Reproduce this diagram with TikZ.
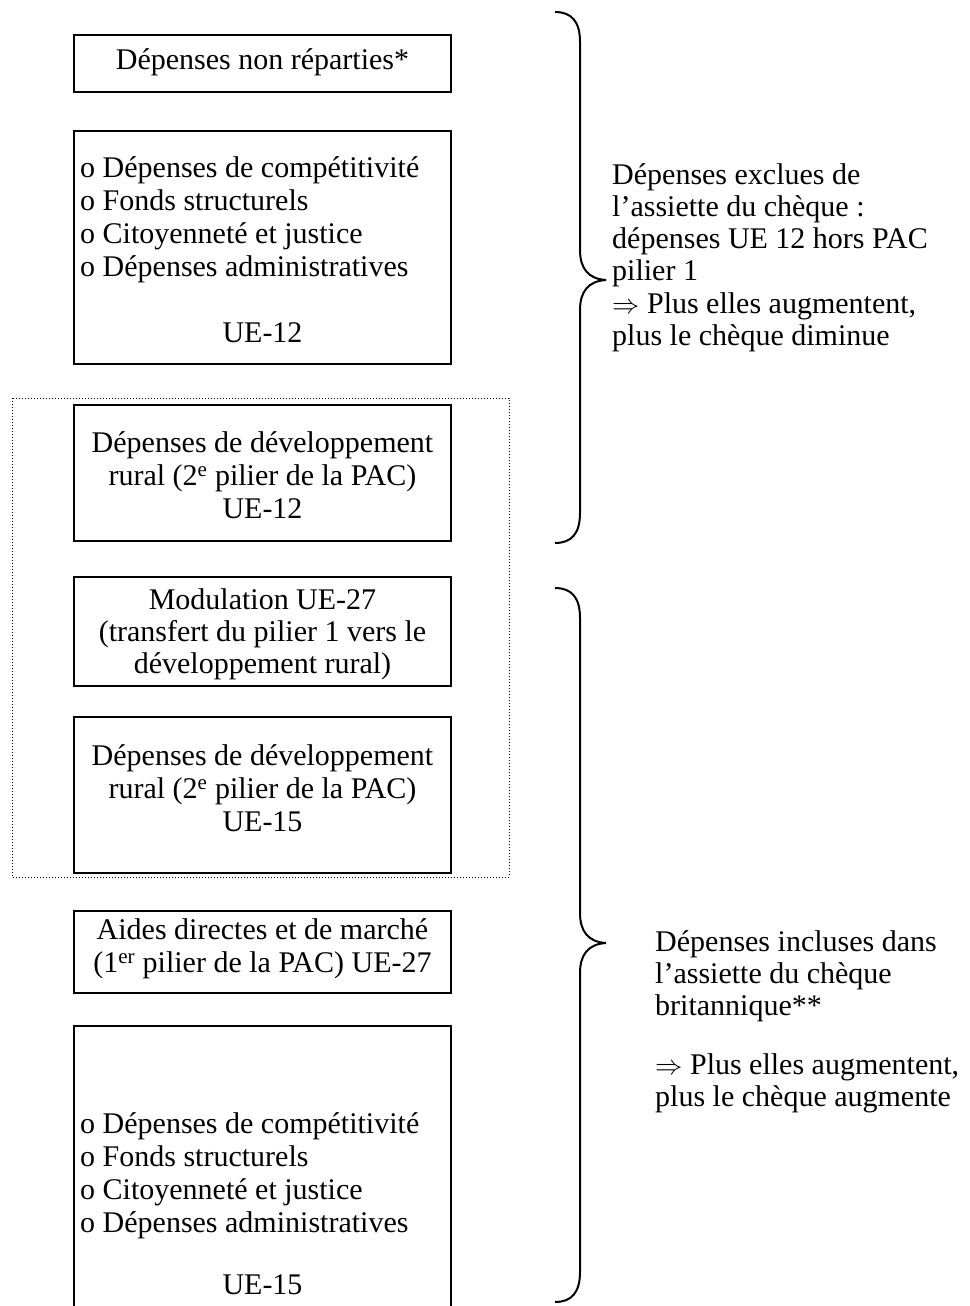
\documentclass[tikz,border=0pt]{standalone}
\usepackage{fontspec}
\setmainfont{Liberation Serif}
\newcommand{\impl}{\raisebox{0pt}[0pt][0pt]{\scalebox{1.1}{$\Rightarrow$}}}
\begin{document}
\begin{tikzpicture}[x=1pt,y=-1pt,
  box/.style={draw,line width=2pt,rectangle,inner sep=0pt,minimum width=377pt},
  txt/.style={inner sep=0pt,font=\fontsize{30}{33}\selectfont},
  side/.style={inner sep=0pt,font=\fontsize{30}{32}\selectfont,align=left,anchor=west},
  brace/.style={line width=2pt}]
\useasboundingbox (0,0) rectangle (969,1306);
% dotted frame
\draw[dotted,line width=1pt] (12,398) rectangle (509,877);
% boxes
\node[box,minimum height=57pt] (b1) at (262.5,63.5) {};
\node[box,minimum height=233pt] (b2) at (262.5,247.5) {};
\node[box,minimum height=136pt] (b3) at (262.5,473) {};
\node[box,minimum height=109pt] (b4) at (262.5,631.5) {};
\node[box,minimum height=156pt] (b5) at (262.5,795) {};
\node[box,minimum height=82pt] (b6) at (262.5,952) {};
\node[box,minimum height=300pt] (b7) at (262.5,1176) {};
% texts
\node[txt] (t1) at (262.5,62) {Dépenses non réparties*};
\node[txt,align=left,anchor=west] (t2) at (80,220) {o Dépenses de compétitivité\\o Fonds structurels\\o Citoyenneté et justice\\o Dépenses administratives};
\node[txt] (t2b) at (262.5,333) {UE-12};
\node[txt,align=center] (t3) at (262.5,475) {Dépenses de développement\\rural (2\textsuperscript{e} pilier de la PAC)\\UE-12};
\node[txt,align=center,font=\fontsize{30}{32}\selectfont] (t4) at (262.5,634) {Modulation UE-27\\(transfert du pilier 1 vers le\\développement rural)};
\node[txt,align=center] (t5) at (262.5,788) {Dépenses de développement\\rural (2\textsuperscript{e} pilier de la PAC)\\UE-15};
\node[txt,align=center] (t6) at (262.5,949) {Aides directes et de marché\\(1\textsuperscript{er} pilier de la PAC) UE-27};
\node[txt,align=left,anchor=west] (t7) at (80,1176) {o Dépenses de compétitivité\\o Fonds structurels\\o Citoyenneté et justice\\o Dépenses administratives};
\node[txt] (t7b) at (262.5,1285) {UE-15};
% right texts
\node[side] (r1) at (612,258) {Dépenses exclues de\\l’assiette du chèque :\\dépenses UE 12 hors PAC\\pilier 1\\[1pt]\impl{} Plus elles augmentent,\\plus le chèque diminue};
\node[side] (r2) at (655,1022) {Dépenses incluses dans\\l’assiette du chèque\\britannique**\\[27pt]\impl{} Plus elles augmentent,\\plus le chèque augmente};
% braces
\coordinate (a1) at (555,12);
\coordinate (tip1) at (606,280);
\coordinate (z1) at (555,543);
\draw[brace] (a1) .. controls (572,12) and (580,22) .. (580,42) -- (580,250)
  .. controls (580,268) and (588,279) .. (tip1)
  .. controls (588,281) and (580,292) .. (580,310) -- (580,513)
  .. controls (580,533) and (572,543) .. (z1);
\coordinate (a2) at (555,588);
\coordinate (tip2) at (606,943);
\coordinate (z2) at (555,1302);
\draw[brace] (a2) .. controls (572,588) and (580,598) .. (580,618) -- (580,913)
  .. controls (580,931) and (588,942) .. (tip2)
  .. controls (588,944) and (580,955) .. (580,973) -- (580,1272)
  .. controls (580,1292) and (572,1302) .. (z2);
\end{tikzpicture}
\end{document}
